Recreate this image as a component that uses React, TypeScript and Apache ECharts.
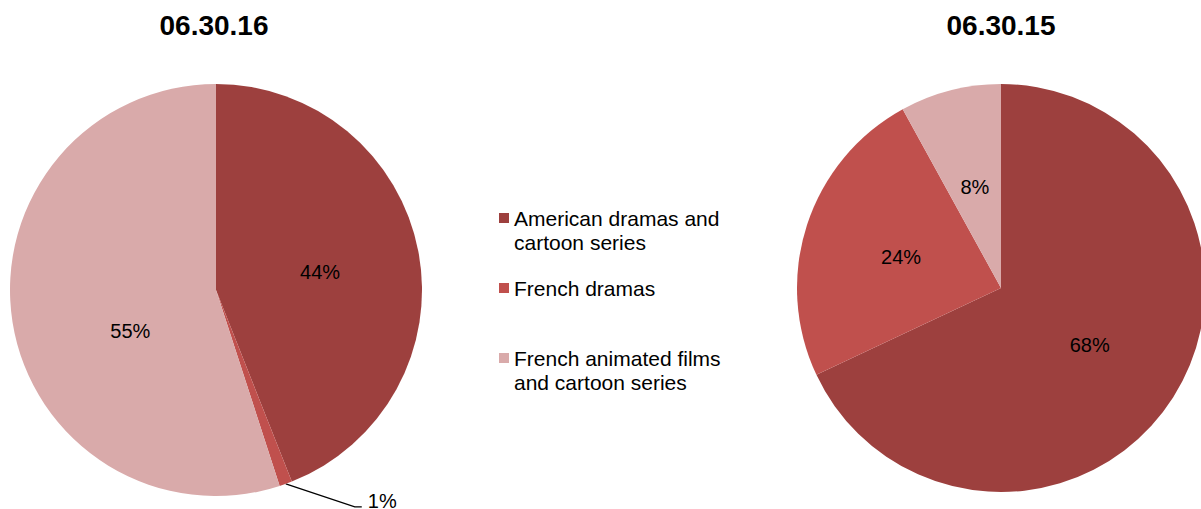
import React, { useEffect, useRef } from 'react';
import * as echarts from 'echarts';

const categories = [
  'American dramas and\ncartoon series',
  'French dramas',
  'French animated films\nand cartoon series',
];
const values2016 = [44, 1, 55];
const values2015 = [68, 24, 8];
const titles = ['06.30.16', '06.30.15'];
const colors = ['#9D403E', '#C0504D', '#D9AAAA'];

const FONT = '"Liberation Sans", Arial, sans-serif';

export default function App() {
  const ref = useRef<HTMLDivElement>(null);
  useEffect(() => {
    if (!ref.current) return;
    const chart = echarts.init(ref.current, undefined, { renderer: 'svg' });

    const mkData = (vals: number[], outsideIdx: number) =>
      vals.map((v, i) => {
        const item: any = { name: categories[i], value: v, itemStyle: { color: colors[i] } };
        if (i === outsideIdx) {
          item.label = { position: 'outside' };
          item.labelLine = { show: true, length: 10, length2: 10, lineStyle: { color: '#000', width: 1.3 } };
        }
        return item;
      });

    const labelCommon = {
      show: true,
      position: 'inside',
      formatter: '{c}%',
      color: '#000',
      fontSize: 20,
      fontFamily: FONT,
    };

    chart.setOption({
      animation: false,
      backgroundColor: '#fff',
      title: titles.map((t, i) => ({
        text: t,
        left: i === 0 ? 214 : 1001,
        textAlign: 'center',
        top: 11,
        padding: 0,
        textStyle: { fontSize: 28, fontWeight: 'bold', color: '#000', fontFamily: FONT },
      })),
      legend: {
        orient: 'vertical',
        left: 499,
        top: 182,
        padding: 0,
        itemWidth: 10,
        itemHeight: 10,
        itemGap: 22,
        icon: 'rect',
        selectedMode: false,
        formatter: (name: string) => (name.indexOf('\n') >= 0 ? '\n' + name : name),
        textStyle: { fontSize: 21, lineHeight: 24, color: '#000', fontFamily: FONT },
        data: categories,
      },
      series: [
        {
          type: 'pie',
          center: [216, 290],
          radius: 206,
          startAngle: 90,
          clockwise: true,
          label: labelCommon,
          labelLine: { show: false },
          emphasis: { disabled: true },
          data: mkData(values2016, 1),
          labelLayout: (params: any) => {
            if (params.dataIndex === 2) return { dx: 19, dy: 24 };
            if (params.dataIndex === 1 && params.labelLinePoints) {
              const p0 = params.labelLinePoints[0];
              return {
                x: p0[0] + 82,
                y: p0[1] + 17,
                align: 'left',
                verticalAlign: 'middle',
                labelLinePoints: [p0, [p0[0] + 69, p0[1] + 23], [p0[0] + 76, p0[1] + 23]],
              };
            }
            return { dy: 2 };
          },
        },
        {
          type: 'pie',
          center: [1001, 288],
          radius: 204,
          startAngle: 90,
          clockwise: true,
          label: labelCommon,
          labelLine: { show: false },
          emphasis: { disabled: true },
          data: mkData(values2015, -1),
          labelLayout: () => ({ dy: 1 }),
        },
      ],
    });
    return () => chart.dispose();
  }, []);
  return (
    <div
      ref={ref}
      style={{ position: 'fixed', left: 0, top: 0, width: 1201, height: 509 }}
    />
  );
}
